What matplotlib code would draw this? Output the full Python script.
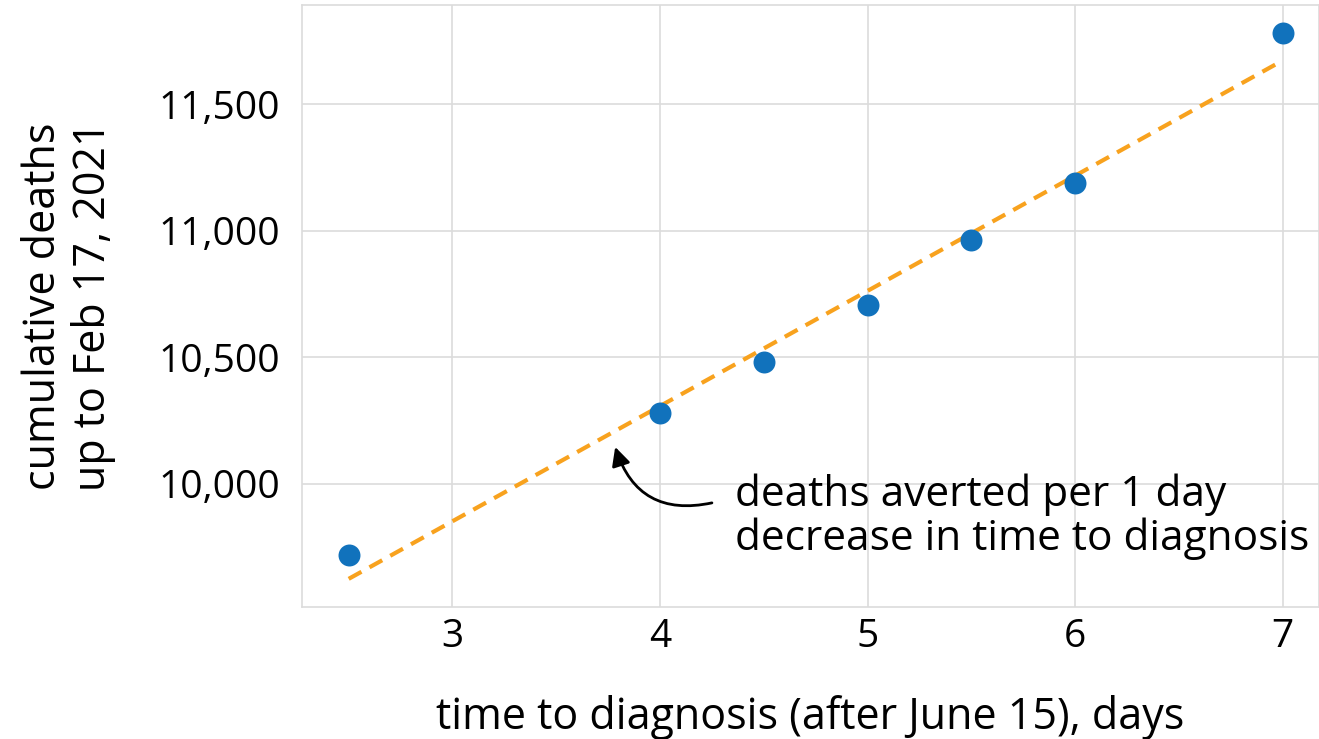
import matplotlib.pyplot as plt
import numpy as np

plt.rcParams['font.family'] = ['Open Sans', 'DejaVu Sans']

# data
days = [2.5, 4, 4.5, 5, 5.5, 6, 7]
deaths = [9720, 10278, 10480, 10706, 10964, 11190, 11780]
fit_x = [2.5, 7]
fit_y = [9625, 11672]
xticks = [3, 4, 5, 6, 7]
yticks = [10000, 10500, 11000, 11500]
note = 'deaths averted per 1 day\ndecrease in time to diagnosis'

fig = plt.figure(figsize=(13.19, 7.39), dpi=100)
ax = fig.add_axes([302 / 1319, 1 - 606.7 / 739, 1017 / 1319, 601.4 / 739])

grid_c = '#dcdcdc'
ax.grid(True, color=grid_c, lw=1.2)
ax.set_axisbelow(True)
for s in ax.spines.values():
    s.set_color(grid_c)
    s.set_linewidth(1.2)

ax.plot(fit_x, fit_y, '--', color='#F8A21E', lw=3, dashes=(3.5, 2.2), zorder=2)
ax.scatter(days, deaths, s=250, color='#1172BC', zorder=3, linewidths=0)

ax.set_xlim(2.275, 7.175)
ax.set_ylim(9515, 11890)
ax.set_xticks(xticks)
ax.set_yticks(yticks)
ax.set_yticklabels([f'{v:,}' for v in yticks])
ax.tick_params(length=0, labelsize=28)
ax.tick_params(axis='x', pad=8)
ax.tick_params(axis='y', pad=16)

ax.set_xlabel('time to diagnosis (after June 15), days', fontsize=31, labelpad=28)
ax.set_ylabel('cumulative deaths\nup to Feb 17, 2021', fontsize=31, labelpad=30, linespacing=1.15)

ax.text(4.36, 9870, note, fontsize=30.5, ha='left', va='center', linespacing=1.05)
ax.annotate('', xy=(3.784, 10146), xytext=(4.25, 9925),
            arrowprops=dict(arrowstyle='-|>', color='black', lw=2,
                            connectionstyle='arc3,rad=-0.45', mutation_scale=28,
                            shrinkA=0, shrinkB=0))

fig.savefig('out.png', dpi=100)
